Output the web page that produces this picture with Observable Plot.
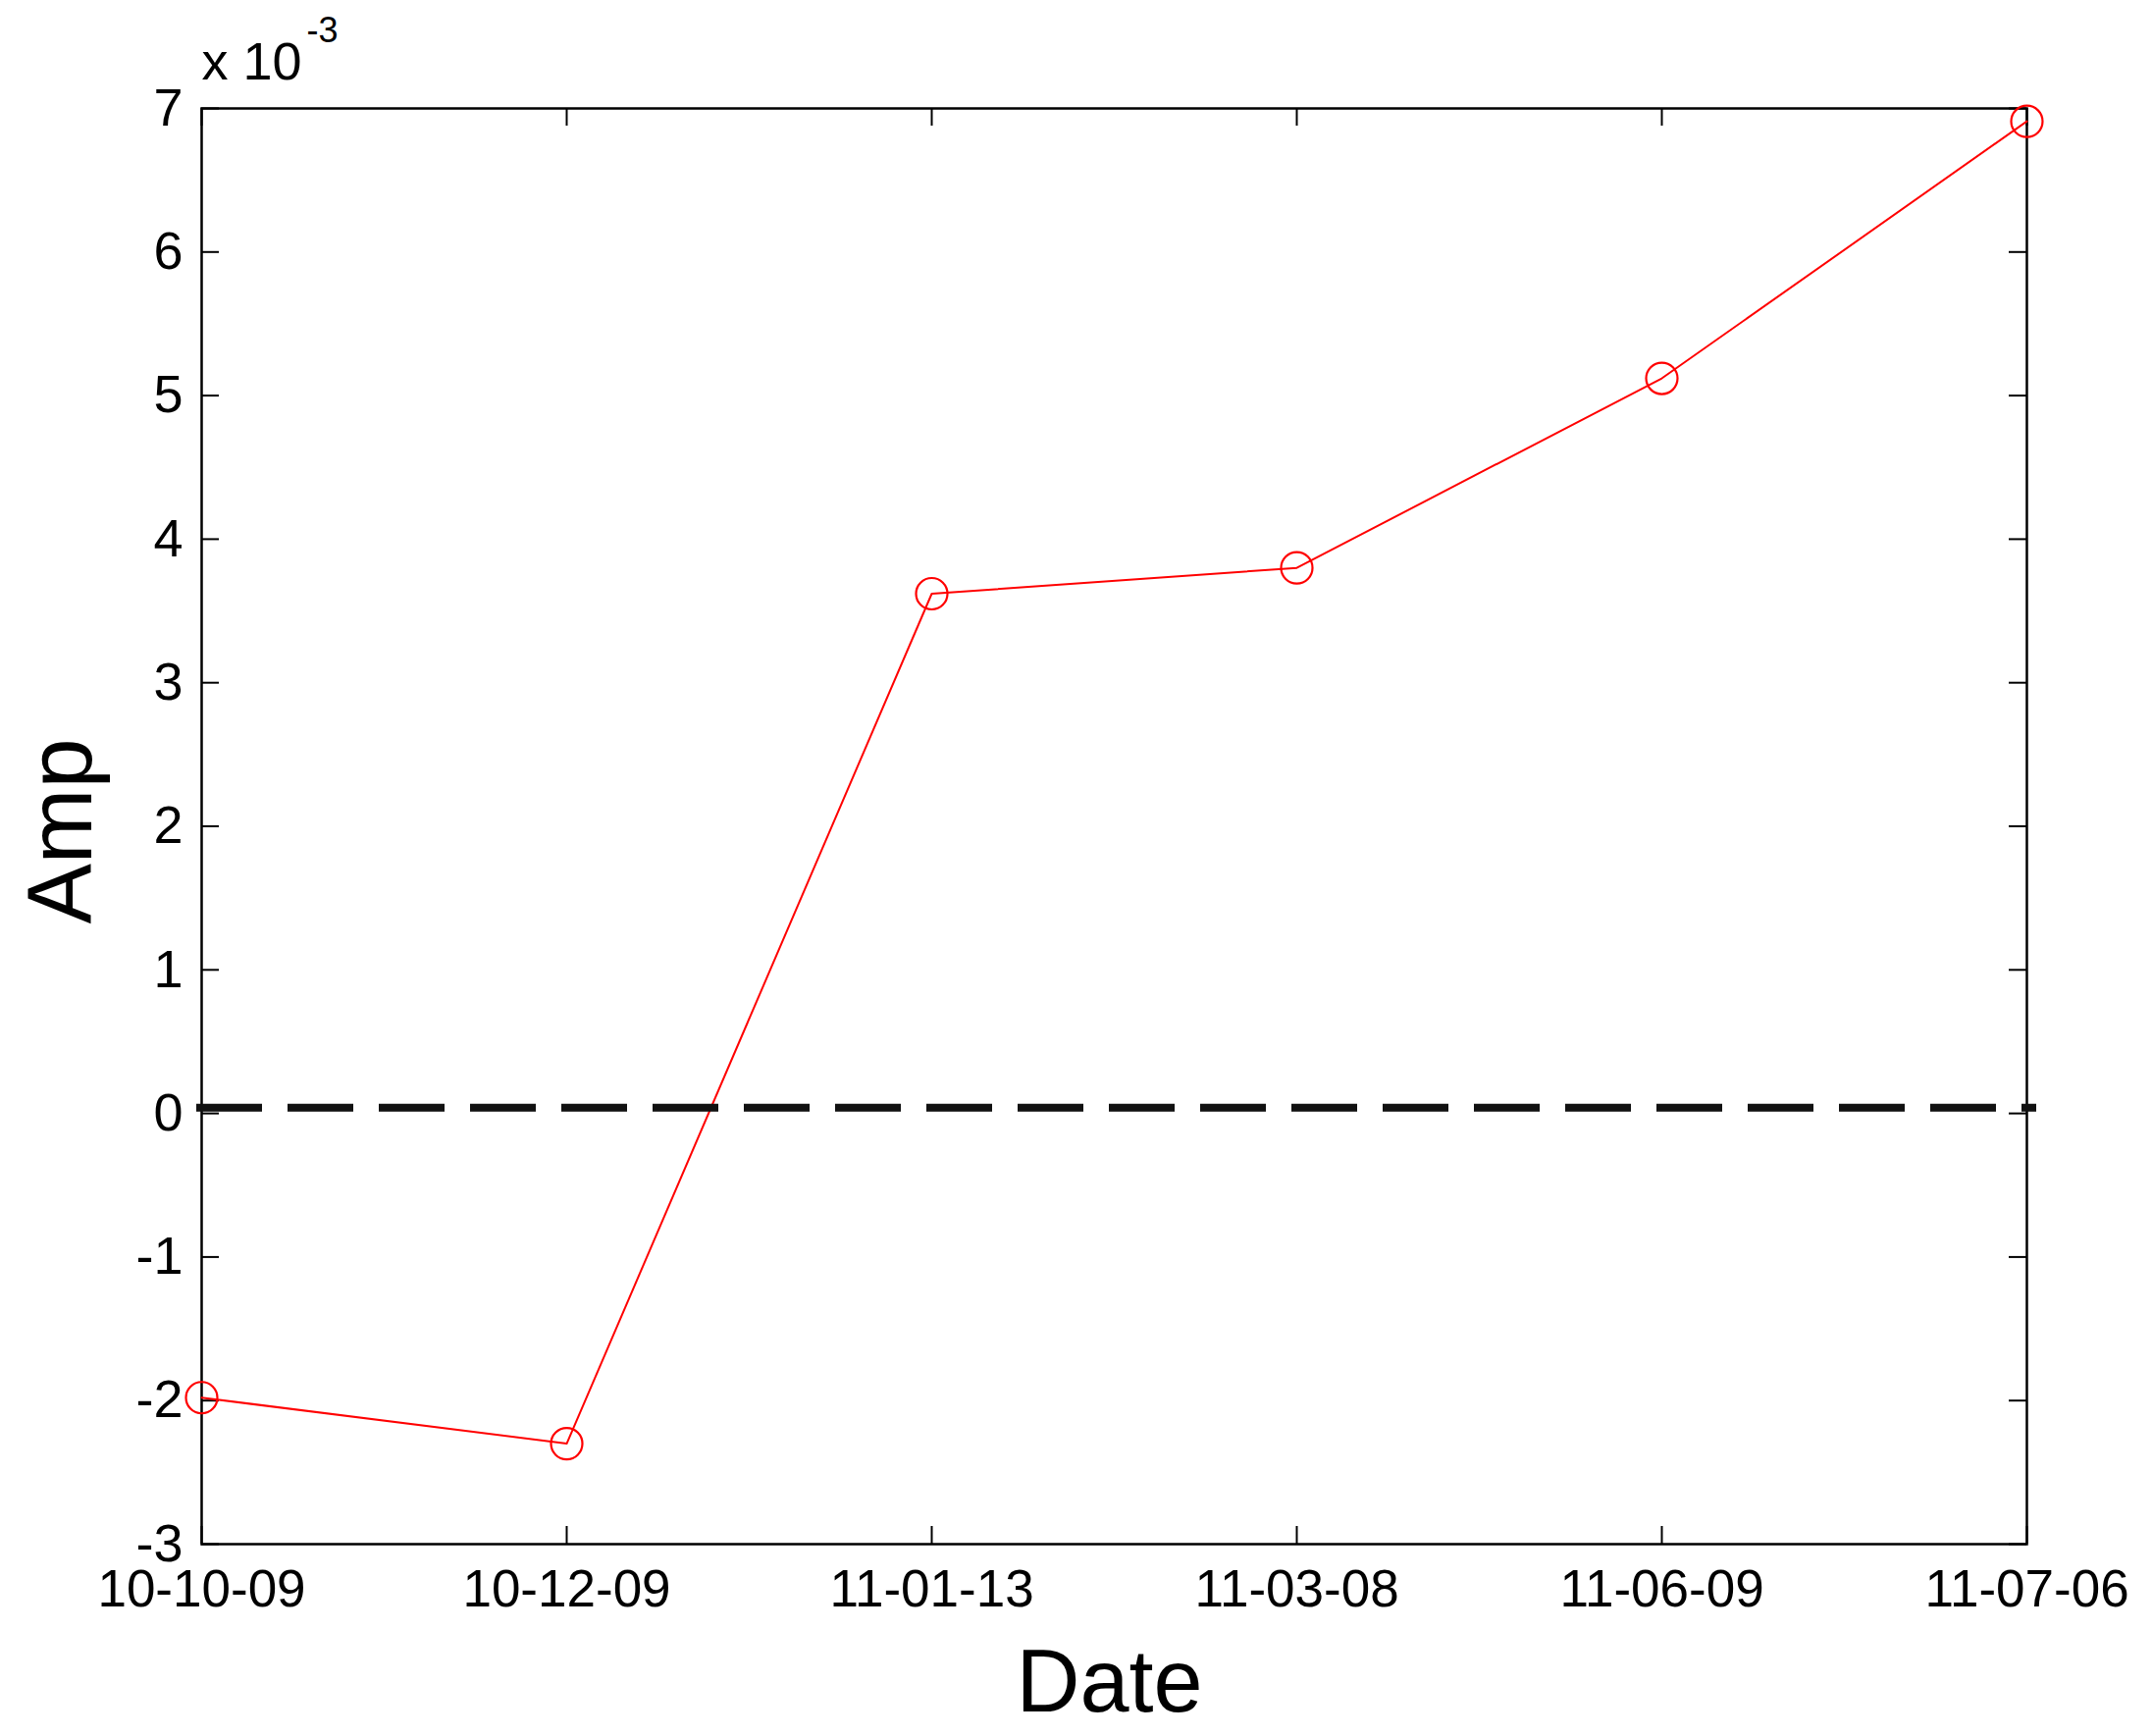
<!DOCTYPE html>
<html>
<head>
<meta charset="utf-8">
<script src="https://cdn.jsdelivr.net/npm/d3@7"></script>
<script src="https://cdn.jsdelivr.net/npm/@observablehq/plot@0.6"></script>
<style>
  html, body { margin: 0; padding: 0; background: #ffffff; }
  #chart svg { display: block; }
</style>
</head>
<body>
<div id="chart"></div>
<script>
// ---- data ----
const dates = ["10-10-09", "10-12-09", "11-01-13", "11-03-08", "11-06-09", "11-07-06"];
const amp = [-1.98, -2.30, 3.62, 3.80, 5.12, 6.91]; // x 10^-3
const yTicks = [-3, -2, -1, 0, 1, 2, 3, 4, 5, 6, 7];
const zeroLine = [0.04];
const xLabel = "Date";
const yLabel = "Amp";
const exponentBase = "x 10";
const exponentPower = "-3";

// ---- layout ----
const W = 2193, H = 1769;
const mL = 205, mR = 128, mT = 110, mB = 196;
const PW = W - mL - mR, PH = H - mT - mB;
const TICK = 18;

const rows = dates.map((d, i) => ({date: d, amp: amp[i]}));

const chart = Plot.plot({
  width: W,
  height: H,
  marginLeft: mL,
  marginRight: mR,
  marginTop: mT,
  marginBottom: mB,
  style: {fontFamily: "'Liberation Sans', Arial, sans-serif", fontSize: "53px", color: "#000", background: "#fff", overflow: "visible"},
  x: {type: "point", domain: dates, padding: 0, axis: null},
  y: {domain: [-3, 7], axis: null},
  marks: [
    Plot.frame({stroke: "#000", strokeWidth: 2.5}),
    // inward ticks
    Plot.ruleY(yTicks, {y: d => d, insetRight: PW - TICK, stroke: "#000", strokeWidth: 2}),
    Plot.ruleY(yTicks, {y: d => d, insetLeft: PW - TICK, stroke: "#000", strokeWidth: 2}),
    Plot.ruleX(dates, {x: d => d, insetTop: PH - TICK, stroke: "#000", strokeWidth: 2}),
    Plot.ruleX(dates, {x: d => d, insetBottom: PH - TICK, stroke: "#000", strokeWidth: 2}),
    // tick labels
    Plot.axisY(yTicks, {anchor: "left", tickSize: 0, tickPadding: 19, fontSize: 54, tickFormat: d => String(d), label: null}),
    Plot.axisX(dates, {anchor: "bottom", tickSize: 0, tickPadding: 26, fontSize: 53, label: null}),
    // data
    Plot.line(rows, {x: "date", y: "amp", stroke: "#ff0000", strokeWidth: 2}),
    Plot.ruleY(zeroLine, {y: d => d, stroke: "#111", strokeWidth: 8, strokeDasharray: "67,26", insetLeft: -5, insetRight: -10}),
    Plot.dot(rows, {x: "date", y: "amp", r: 16, stroke: "#ff0000", fill: "none", strokeWidth: 2.2}),
    // axis titles
    Plot.text([yLabel], {frameAnchor: "left", text: d => d, rotate: -90, dx: -113, dy: 5, lineAnchor: "bottom", textAnchor: "middle", fontSize: 92, fill: "#000"}),
    Plot.text([xLabel], {frameAnchor: "bottom", text: d => d, dy: 170, dx: -5, lineAnchor: "bottom", textAnchor: "middle", fontSize: 90, fill: "#000"}),
    // exponent
    Plot.text([exponentBase], {frameAnchor: "top-left", text: d => d, dx: 0, dy: -30, lineAnchor: "bottom", textAnchor: "start", fontSize: 54, fill: "#000"}),
    Plot.text([exponentPower], {frameAnchor: "top-left", text: d => d, dx: 107, dy: -68, lineAnchor: "bottom", textAnchor: "start", fontSize: 36, fill: "#000"})
  ]
});

document.getElementById("chart").appendChild(chart);
</script>
</body>
</html>
